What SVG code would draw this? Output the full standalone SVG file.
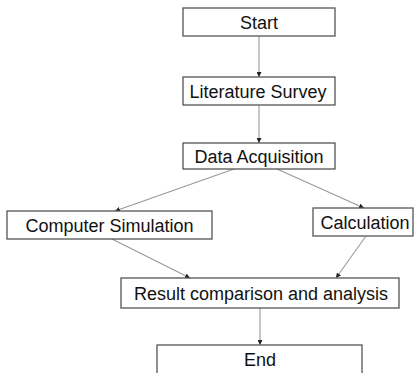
<svg xmlns="http://www.w3.org/2000/svg" width="415" height="373" viewBox="0 0 415 373">
<style>
.box{fill:#fff;stroke:#555;stroke-width:1.3}
.lbl{font-family:"Liberation Sans",Arial,sans-serif;font-size:18px;fill:#111;text-anchor:middle}
.con{stroke:#999;stroke-width:1.1;fill:none;marker-end:url(#ah)}
</style>
<defs>
<marker id="ah" viewBox="0 0 10 10" refX="10" refY="5" markerWidth="5" markerHeight="5" orient="auto" markerUnits="userSpaceOnUse">
<path d="M0,0 L10,5 L0,10 z" fill="#222"/>
</marker>
</defs>
<rect width="415" height="373" fill="#fff"/>
<g id="connectors">
<line class="con" x1="259" y1="36" x2="259" y2="77"/>
<line class="con" x1="259" y1="105" x2="259" y2="143"/>
<line class="con" x1="234" y1="169" x2="115" y2="211"/>
<line class="con" x1="277" y1="169" x2="364" y2="208"/>
<line class="con" x1="112" y1="239" x2="190" y2="278"/>
<line class="con" x1="366" y1="236" x2="336" y2="278"/>
<line class="con" x1="260" y1="308" x2="260" y2="345"/>
</g>
<g id="start"><rect class="box" x="183" y="8" width="152" height="28"/><text class="lbl" x="259" y="29">Start</text></g>
<g id="literature"><rect class="box" x="183" y="77" width="152" height="28"/><text class="lbl" x="258" y="97.5">Literature Survey</text></g>
<g id="data"><rect class="box" x="183" y="143" width="152" height="26"/><text class="lbl" x="259" y="162.5">Data Acquisition</text></g>
<g id="sim"><rect class="box" x="7" y="211" width="205" height="28"/><text class="lbl" x="109.5" y="231.5">Computer Simulation</text></g>
<g id="calc"><rect class="box" x="313" y="208" width="100" height="28"/><text class="lbl" x="365" y="228.5">Calculation</text></g>
<g id="result"><rect class="box" x="121" y="278" width="278" height="30"/><text class="lbl" x="261" y="299.5">Result comparison and analysis</text></g>
<g id="end"><rect class="box" x="157" y="345" width="205" height="32"/><text class="lbl" x="260" y="366">End</text></g>
</svg>
